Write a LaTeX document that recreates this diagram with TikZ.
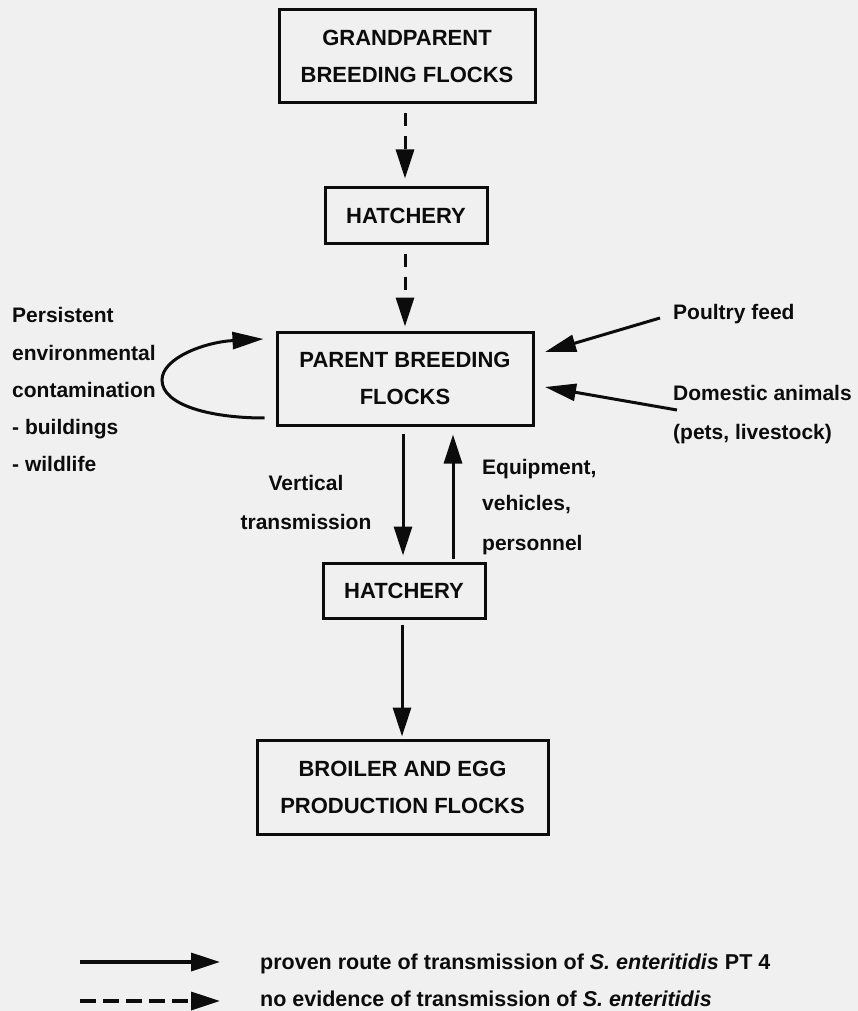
\documentclass[tikz,border=0pt]{standalone}
\usepackage{fontspec}
\setmainfont{Liberation Sans}
\usetikzlibrary{arrows.meta}
\definecolor{bg}{RGB}{240,240,240}
\definecolor{ink}{RGB}{12,12,12}
\begin{document}
\begin{tikzpicture}[x=1pt,y=-1pt,
  box/.style={draw=ink, line width=3pt, inner sep=0pt, align=center, text=ink,
    font=\bfseries\fontsize{22}{37}\selectfont},
  lbl/.style={inner sep=0pt, text=ink, font=\bfseries\fontsize{21}{25}\selectfont},
  arr/.style={draw=ink, line width=3pt, -{Triangle[length=29pt,width=18pt]}},
  darr/.style={arr, dash pattern=on 13pt off 10pt},
]
\fill[bg] (0,0) rectangle (858,1011);
\useasboundingbox (0,0) rectangle (858,1011);

% boxes
\node[box, minimum width=256pt, minimum height=93pt] (gp) at (407,56.5) {GRANDPARENT\\BREEDING FLOCKS};
\node[box, minimum width=162pt, minimum height=55pt] (hat1) at (406,215.5) {HATCHERY};
\node[box, minimum width=256pt, minimum height=93pt] (parent) at (405,378.5) {PARENT BREEDING\\FLOCKS};
\node[box, minimum width=162pt, minimum height=55pt] (hat2) at (404,590.5) {HATCHERY};
\node[box, minimum width=291pt, minimum height=94pt] (broiler) at (402.5,787) {BROILER AND EGG\\PRODUCTION FLOCKS};

% x positions of vertical connectors
\coordinate (ax) at (405,0);
\coordinate (dx) at (403,0);
\coordinate (ux) at (453,0);
\coordinate (bx) at (402,0);

\draw[darr, shorten <=9pt, shorten >=8pt] (gp.south -| ax) -- (hat1.north -| ax);
\draw[darr, shorten <=9pt, shorten >=4pt] (hat1.south -| ax) -- (parent.north -| ax);
\draw[arr, shorten <=7pt, shorten >=6pt] (parent.south -| dx) -- (hat2.north -| dx);
\draw[arr, shorten <=3pt, shorten >=8pt] (hat2.north -| ux) -- (parent.south -| ux);
\draw[arr, shorten <=5pt, shorten >=2pt] (hat2.south -| bx) -- (broiler.north -| bx);

% left labels
\node[lbl, anchor=base west] (pe1) at (12,322.5) {Persistent};
\node[lbl, anchor=base west] (pe2) at (12,360.5) {environmental};
\node[lbl, anchor=base west] (pe3) at (12,397.5) {contamination};
\node[lbl, anchor=base west] (pe4) at (12,434.5) {- buildings};
\node[lbl, anchor=base west] (pe5) at (12,471.5) {- wildlife};

% loop
\draw[arr, -{Triangle[length=31pt,width=17pt]}]
  ([xshift=-11pt,yshift=-39.5pt]parent.west)
  .. controls (210,418) and (162,405) .. (162,380)
  .. controls (162,358) and (205,342) .. ([xshift=-12pt,yshift=39.5pt]parent.west);

% right labels
\node[lbl, anchor=base west] (pf) at (673,319.5) {Poultry feed};
\node[lbl, anchor=base west] (da) at (673,400.5) {Domestic animals};
\node[lbl, anchor=base west] (pl) at (673,439.5) {(pets, livestock)};
\coordinate (pfs) at (660,318);
\coordinate (pft) at (545,352);
\coordinate (das) at (677,410);
\coordinate (dat) at (545,387);
\draw[arr, -{Triangle[length=31pt,width=17pt]}] (pfs) -- (pft);
\draw[arr, -{Triangle[length=31pt,width=17pt]}] (das) -- (dat);

% middle labels
\node[lbl, anchor=base] (vt1) at (306,490.5) {Vertical};
\node[lbl, anchor=base] (vt2) at (306,529.5) {transmission};
\node[lbl, anchor=base west] (ev1) at (482,474.5) {Equipment,};
\node[lbl, anchor=base west] (ev2) at (482,510.5) {vehicles,};
\node[lbl, anchor=base west] (ev3) at (482,550.5) {personnel};

% legend
\coordinate (l1s) at (80,962);
\coordinate (l1e) at (220,962);
\coordinate (l2s) at (80,1001);
\coordinate (l2e) at (220,1001);
\draw[arr, line width=3.4pt] (l1s) -- (l1e);
\draw[arr, line width=3.4pt, dash pattern=on 16pt off 7pt] (l2s) -- (l2e);
\node[lbl, anchor=base west, font=\bfseries\fontsize{21.5}{25}\selectfont] (lg1) at (260,969.5) {proven route of transmission of \textit{S. enteritidis} PT 4};
\node[lbl, anchor=base west, font=\bfseries\fontsize{21.5}{25}\selectfont] (lg2) at (260,1006.5) {no evidence of transmission of \textit{S. enteritidis}};
\end{tikzpicture}
\end{document}
